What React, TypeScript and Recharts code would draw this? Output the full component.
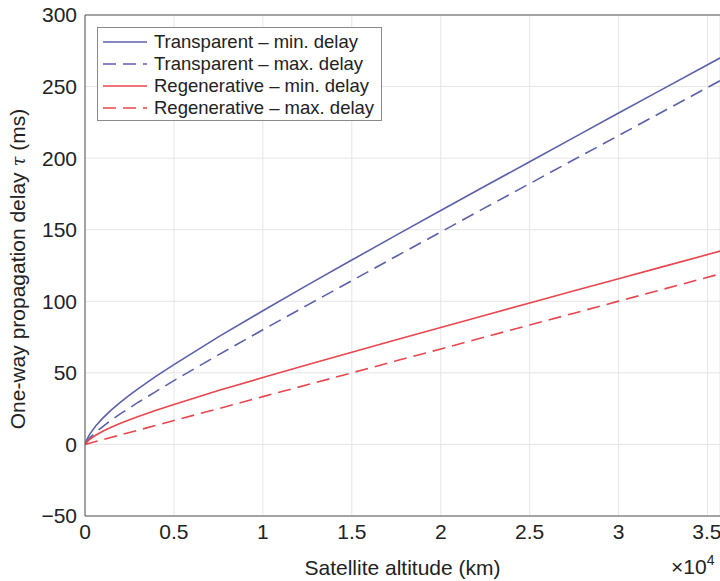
import React from 'react';
import { LineChart, Line, XAxis, YAxis, CartesianGrid, ReferenceLine } from 'recharts';

// altitude in km, delays in ms
const altitudeKm = [0, 50, 100, 200, 300, 600, 1000, 1500, 2000, 2500, 3000, 4000, 5000, 7500, 10000, 12500, 15000, 17500, 20000, 22500, 25000, 27500, 30000, 32500, 36000];
const transparentMin = [0, 1.7, 3.2, 5.6, 7.7, 12.9, 18.4, 24.3, 29.6, 34.4, 39.0, 47.7, 55.8, 75.1, 93.4, 111.3, 128.8, 146.2, 163.4, 180.5, 197.5, 214.5, 231.5, 248.4, 272.0];
const transparentMax = [0, 1.1, 1.9, 3.5, 4.9, 8.4, 12.5, 17.2, 21.5, 25.5, 29.5, 37.1, 44.6, 62.6, 80.1, 97.3, 114.4, 131.5, 148.4, 165.4, 182.2, 199.0, 215.8, 232.6, 256.1];
const regenerativeMin = [0, 0.9, 1.6, 2.8, 3.9, 6.4, 9.2, 12.2, 14.8, 17.2, 19.5, 23.8, 27.9, 37.6, 46.7, 55.6, 64.4, 73.1, 81.7, 90.3, 98.8, 107.3, 115.7, 124.2, 136.0];
const regenerativeMax = [0, 0.2, 0.3, 0.7, 1.0, 2.0, 3.3, 5.0, 6.7, 8.3, 10.0, 13.3, 16.7, 25.0, 33.4, 41.7, 50.0, 58.4, 66.7, 75.1, 83.4, 91.7, 100.1, 108.4, 120.1];

const xTicks = [0, 5000, 10000, 15000, 20000, 25000, 30000, 35000];
const yTicks = [-50, 0, 50, 100, 150, 200, 250, 300];

const BLUE = '#5c60aa';
const RED = '#e8464e';
const FONT = '"Liberation Sans", Arial, Helvetica, sans-serif';
const DASH = '13 7';

const series = [
  { key: 'tMin', name: 'Transparent \u2013 min. delay', color: BLUE, dash: undefined },
  { key: 'tMax', name: 'Transparent \u2013 max. delay', color: BLUE, dash: DASH },
  { key: 'rMin', name: 'Regenerative \u2013 min. delay', color: RED, dash: undefined },
  { key: 'rMax', name: 'Regenerative \u2013 max. delay', color: RED, dash: DASH },
];

const data = altitudeKm.map((h, i) => ({
  h,
  tMin: transparentMin[i],
  tMax: transparentMax[i],
  rMin: regenerativeMin[i],
  rMax: regenerativeMax[i],
}));

const fmtY = (v: number) => (v < 0 ? '\u2212' + Math.abs(v) : String(v));
const fmtX = (v: number) => String(v / 10000);

const YLabel = () => (
  <text
    transform="translate(25, 269) rotate(-90)"
    textAnchor="middle"
    fontSize={21}
    fontFamily={FONT}
    fill="#222"
  >
    One-way propagation delay <tspan fontStyle="italic" fontFamily="'DejaVu Serif', serif" fontSize={18}>{'\u03c4'}</tspan> (ms)
  </text>
);

const Legend = () => (
  <div
    style={{
      position: 'absolute',
      left: 97,
      top: 27,
      width: 285,
      height: 94,
      border: '1px solid #8a8a8a',
      background: '#fff',
      boxSizing: 'border-box',
      padding: '3px 0 0 4px',
      fontFamily: FONT,
      fontSize: 18.5,
      color: '#222',
    }}
  >
    {series.map((s) => (
      <div key={s.key} style={{ display: 'flex', alignItems: 'center', height: 22 }}>
        <svg width={46} height={10} style={{ marginRight: 6 }}>
          <line x1={1} y1={5} x2={45} y2={5} stroke={s.color} strokeWidth={1.6} strokeDasharray={s.dash} />
        </svg>
        <span style={{ whiteSpace: 'nowrap' }}>{s.name}</span>
      </div>
    ))}
  </div>
);

export default function App() {
  return (
    <div style={{ position: 'absolute', left: 0, top: 0, width: 720, height: 581, background: '#fff', overflow: 'hidden' }}>
      <LineChart width={720} height={581} data={data} margin={{ top: 15, right: 0, bottom: 0, left: 0 }}>
        <CartesianGrid stroke="#e6e6e6" />
        <XAxis
          dataKey="h"
          type="number"
          domain={[0, 35700]}
          allowDataOverflow
          ticks={xTicks}
          tickFormatter={fmtX}
          height={65}
          tickLine={false}
          tickSize={0}
          tickMargin={8}
          axisLine={{ stroke: '#555' }}
          tick={{ fontSize: 21, fill: '#222', fontFamily: FONT }}
          label={{ value: 'Satellite altitude (km)', position: 'insideBottom', offset: 6, fontSize: 21, fill: '#222', fontFamily: FONT }}
        />
        <XAxis xAxisId="b2" dataKey="h" type="number" domain={[0, 35700]} allowDataOverflow ticks={xTicks} mirror tick={false} tickSize={5} axisLine={false} tickLine={{ stroke: '#555' }} />
        <XAxis xAxisId="t2" orientation="top" dataKey="h" type="number" domain={[0, 35700]} allowDataOverflow ticks={xTicks} mirror tick={false} tickSize={5} axisLine={false} tickLine={{ stroke: '#555' }} />
        <YAxis
          type="number"
          domain={[-50, 300]}
          ticks={yTicks}
          tickFormatter={fmtY}
          width={85}
          tickLine={false}
          tickSize={0}
          tickMargin={8}
          axisLine={{ stroke: '#555' }}
          tick={{ fontSize: 21, fill: '#222', fontFamily: FONT }}
          label={{ content: () => <YLabel /> }}
        />
        <YAxis yAxisId="l2" type="number" domain={[-50, 300]} ticks={yTicks} mirror tick={false} tickSize={5} axisLine={false} tickLine={{ stroke: '#555' }} />
        <YAxis yAxisId="r2" orientation="right" type="number" domain={[-50, 300]} ticks={yTicks} mirror tick={false} tickSize={5} axisLine={false} tickLine={{ stroke: '#555' }} />
        <ReferenceLine y={300} stroke="#555" />
        {series.map((s) => (
          <Line
            key={s.key}
            dataKey={s.key}
            name={s.name}
            stroke={s.color}
            strokeWidth={1.6}
            strokeDasharray={s.dash}
            dot={false}
            type="linear"
            isAnimationActive={false}
          />
        ))}
      </LineChart>
      <div style={{ position: 'absolute', left: 671, top: 555, fontFamily: FONT, fontSize: 21, color: '#222', whiteSpace: 'nowrap' }}>
        {'\u00d7'}10<span style={{ fontSize: 14, position: 'relative', top: -9 }}>4</span>
      </div>
      <Legend />
    </div>
  );
}
